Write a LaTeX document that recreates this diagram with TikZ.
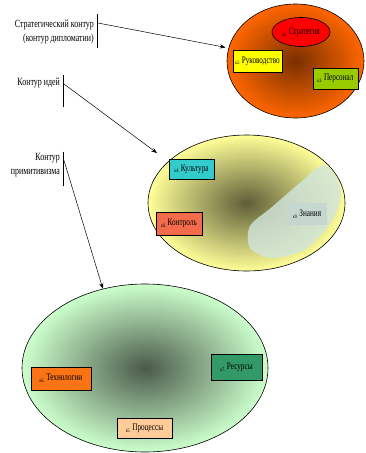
\documentclass[tikz,border=0pt]{standalone}
\usepackage{fontspec}
\setmainfont[FakeStretch=0.72]{Liberation Serif}
\usepackage{tikz}
\usetikzlibrary{
  arrows.meta,
  shapes.geometric,
  positioning,
  calc
}
\definecolor{kzOrange}{HTML}{FF6600}
\definecolor{kzOrangeDk}{HTML}{7A3000}
\definecolor{kzRed}{HTML}{FF0000}
\definecolor{kzYellow}{HTML}{FFFF00}
\definecolor{kzLime}{HTML}{99CC00}
\definecolor{kzIdea}{HTML}{FFFF99}
\definecolor{kzIdeaDk}{HTML}{5E5E38}
\definecolor{kzCyan}{HTML}{33CCCC}
\definecolor{kzCoral}{HTML}{F26B4A}
\definecolor{kzMist}{HTML}{D2E6DE}
\definecolor{kzPrim}{HTML}{CCFFCC}
\definecolor{kzPrimDk}{HTML}{4A5A4A}
\definecolor{kzTech}{HTML}{FA7314}
\definecolor{kzGreen}{HTML}{339966}
\definecolor{kzPeach}{HTML}{FFCC99}
\newcommand{\klabel}[2]{{\fontsize{5.5}{6}\selectfont #1}\,\raisebox{1.8pt}{#2}}
\tikzset{
  zone/.style={draw, ellipse, inner sep=0pt, line width=0.6pt, shading=radial},
  goal/.style={draw, ellipse, inner sep=0pt, line width=0.6pt, fill=kzRed,
    font=\fontsize{10}{11}\selectfont},
  kbox/.style={draw, line width=0.8pt, inner sep=1pt, font=\fontsize{10}{11}\selectfont},
  contourtxt/.style={font=\fontsize{11}{14}\selectfont, align=right, inner sep=1pt},
  bar/.style={line width=0.5pt},
  pointer/.style={-{Stealth[length=2mm, width=1.5mm]}, line width=0.5pt},
  mist/.style={fill=kzMist, fill opacity=0.8, draw=none}
}
\begin{document}
\begin{tikzpicture}[x=1pt, y=-1pt]
  \useasboundingbox (0,0) rectangle (366,453);
  \node[zone, inner color=kzOrangeDk, outer color=kzOrange, minimum width=137, minimum height=114] (strat) at (295.5,61) {};
  \node[goal, minimum width=58, minimum height=29] (k1) at (301,32) {\klabel{к1.}{Стратегия}};
  \node[kbox, fill=kzYellow, minimum width=49, minimum height=22] (k2) at (257.5,61) {\klabel{к2.}{Руководство}};
  \node[kbox, fill=kzLime, minimum width=45, minimum height=21] (k3) at (335.5,78.5) {\klabel{к3.}{Персонал}};

  \node[zone, inner color=kzIdeaDk, outer color=kzIdea, minimum width=197, minimum height=136] (idea) at (246.5,203) {};
  \fill[mist] plot[smooth cycle] coordinates {(323,165) (336,176) (341,196) (331,222) (306,249) (272,258) (250,248) (250,226) (272,207) (302,181)};
  \node[kbox, fill=kzCyan, minimum width=45, minimum height=20] (k4) at (191.5,169) {\klabel{к4.}{Культура}};
  \node[kbox, fill=kzCoral, minimum width=46, minimum height=23] (k8) at (179,223.5) {\klabel{к8.}{Контроль}};
  \node[kbox, draw=none, fill=kzMist!85!gray, minimum width=40, minimum height=22] (k9) at (307,214) {\klabel{к9.}{Знания}};

  \node[zone, inner color=kzPrimDk, outer color=kzPrim, minimum width=246, minimum height=168] (prim) at (145,368) {};
  \node[kbox, fill=kzTech, minimum width=60, minimum height=23] (k6) at (61,378.5) {\klabel{к6.}{Технологии}};
  \node[kbox, fill=kzGreen, minimum width=51, minimum height=26] (k7) at (236.5,367) {\klabel{к7.}{Ресурсы}};
  \node[kbox, fill=kzPeach, minimum width=55, minimum height=20] (k5) at (144.5,428) {\klabel{к5.}{Процессы}};

  \node[contourtxt, anchor=east] (stratLbl) at (95,32) {Стратегический контур\\(контур дипломатии)};
  \node[contourtxt, anchor=east] (ideaLbl) at (61,83) {Контур идей};
  \node[contourtxt, anchor=east] (primLbl) at (61,165.5) {Контур\\примитивизма};
  \draw[bar] ($(stratLbl.east)+(2,-18)$) -- ++(0,34);
  \draw[bar] ($(ideaLbl.east)+(2,-8)$) -- ++(0,32);
  \draw[bar] ($(primLbl.east)+(2,-14)$) -- ++(0,34);
  \draw[pointer, shorten >=3pt] ($(stratLbl.east)+(3,-9)$) -- (strat.169);
  \draw[pointer, shorten >=14pt] ($(ideaLbl.east)+(3,1)$) -- (idea.152);
  \draw[pointer] ($(primLbl.east)+(3,-5)$) -- (prim.118);
\end{tikzpicture}
\end{document}
